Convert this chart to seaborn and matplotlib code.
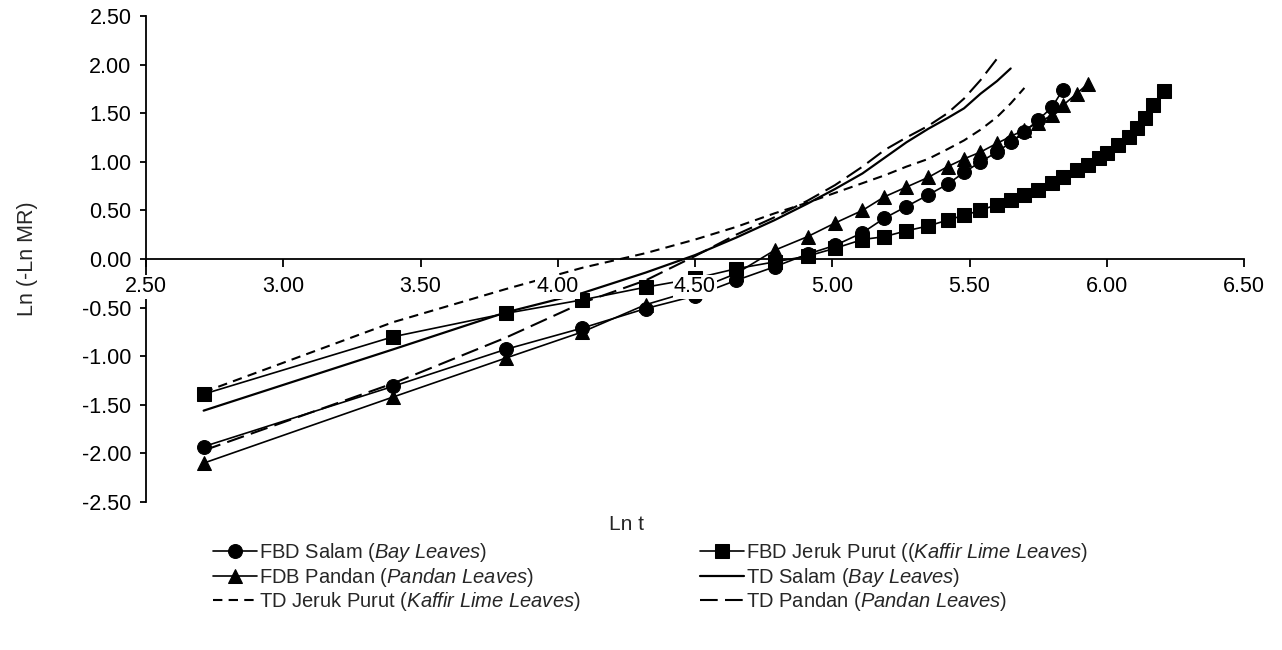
import matplotlib
matplotlib.use("Agg")
import matplotlib.pyplot as plt
import seaborn as sns
from matplotlib.ticker import FormatStrFormatter, MultipleLocator

# Ln t values (same time steps for every series)
ln_t = [2.71, 3.40, 3.81, 4.09, 4.32, 4.50, 4.65, 4.79, 4.91, 5.01, 5.11,
        5.19, 5.27, 5.35, 5.42, 5.48, 5.54, 5.60, 5.65, 5.70, 5.75, 5.80,
        5.84, 5.89, 5.93, 5.97, 6.00, 6.04, 6.08, 6.11, 6.14, 6.17, 6.21]

# Ln(-Ln MR)
fbd_salam = [-1.93, -1.31, -0.93, -0.71, -0.51, -0.38, -0.22, -0.08, 0.05,
             0.14, 0.27, 0.42, 0.54, 0.66, 0.77, 0.89, 1.00, 1.10, 1.20,
             1.31, 1.43, 1.56, 1.74]
fbd_jeruk = [-1.39, -0.80, -0.56, -0.42, -0.29, -0.20, -0.10, -0.03, 0.03,
             0.11, 0.20, 0.23, 0.29, 0.34, 0.40, 0.45, 0.50, 0.56, 0.61,
             0.66, 0.71, 0.78, 0.84, 0.92, 0.97, 1.04, 1.09, 1.17, 1.26,
             1.35, 1.45, 1.58, 1.73]
fdb_pandan = [-2.10, -1.42, -1.02, -0.75, -0.47, -0.32, -0.15, 0.09, 0.23,
              0.37, 0.50, 0.64, 0.74, 0.84, 0.95, 1.03, 1.10, 1.19, 1.26,
              1.33, 1.40, 1.48, 1.58, 1.70, 1.80]
td_salam = [-1.56, -0.93, -0.55, -0.35, -0.14, 0.04, 0.22, 0.40, 0.57,
            0.72, 0.88, 1.04, 1.20, 1.34, 1.45, 1.55, 1.70, 1.83, 1.96]
td_jeruk = [-1.37, -0.65, -0.31, -0.09, 0.06, 0.20, 0.33, 0.47, 0.58, 0.68,
            0.78, 0.86, 0.95, 1.03, 1.13, 1.22, 1.33, 1.46, 1.60, 1.76]
td_pandan = [-1.97, -1.28, -0.81, -0.45, -0.22, 0.03, 0.25, 0.43, 0.60,
             0.76, 0.95, 1.12, 1.25, 1.37, 1.50, 1.65, 1.84, 2.06]

labels = {
    "fbd_salam": r"FBD Salam ($\it{Bay\ Leaves}$)",
    "fbd_jeruk": r"FBD Jeruk Purut (($\it{Kaffir\ Lime\ Leaves}$)",
    "fdb_pandan": r"FDB Pandan ($\it{Pandan\ Leaves}$)",
    "td_salam": r"TD Salam ($\it{Bay\ Leaves}$)",
    "td_jeruk": r"TD Jeruk Purut ($\it{Kaffir\ Lime\ Leaves}$)",
    "td_pandan": r"TD Pandan ($\it{Pandan\ Leaves}$)",
}

sns.set_style("white")
plt.rcParams["font.family"] = ["Liberation Sans", "DejaVu Sans"]
plt.rcParams["mathtext.fontset"] = "custom"
plt.rcParams["mathtext.it"] = "Liberation Sans:italic"
plt.rcParams["mathtext.rm"] = "Liberation Sans"
plt.rcParams["axes.unicode_minus"] = False

fig = plt.figure(figsize=(12.82, 6.5), dpi=100)
ax = fig.add_axes([146 / 1282, 1 - 502 / 650, 1098 / 1282, 486 / 650])

mk = dict(color="black", markeredgecolor="black", markersize=10, linewidth=1.2)
sns.lineplot(x=ln_t[:len(fbd_salam)], y=fbd_salam, marker="o", ax=ax,
             label=labels["fbd_salam"], **mk)
sns.lineplot(x=ln_t[:len(fbd_jeruk)], y=fbd_jeruk, marker="s", ax=ax,
             label=labels["fbd_jeruk"], **mk)
sns.lineplot(x=ln_t[:len(fdb_pandan)], y=fdb_pandan, marker="^", ax=ax,
             label=labels["fdb_pandan"], **mk)
sns.lineplot(x=ln_t[:len(td_salam)], y=td_salam, ax=ax, color="black",
             linewidth=1.6, label=labels["td_salam"])
sns.lineplot(x=ln_t[:len(td_jeruk)], y=td_jeruk, ax=ax, color="black",
             linewidth=1.5, linestyle=(0, (4.5, 3.0)), label=labels["td_jeruk"])
sns.lineplot(x=ln_t[:len(td_pandan)], y=td_pandan, ax=ax, color="black",
             linewidth=1.5, linestyle=(0, (8.5, 3.5)), label=labels["td_pandan"])

ax.set_xlim(2.5, 6.5)
ax.set_ylim(-2.5, 2.5)
ax.xaxis.set_major_locator(MultipleLocator(0.5))
ax.yaxis.set_major_locator(MultipleLocator(0.5))
ax.xaxis.set_major_formatter(FormatStrFormatter("%.2f"))
ax.yaxis.set_major_formatter(FormatStrFormatter("%.2f"))

# Excel-style axes: x axis crosses at y = 0
ax.spines["top"].set_visible(False)
ax.spines["right"].set_visible(False)
ax.spines["bottom"].set_position(("data", 0))
for s in ["left", "bottom"]:
    ax.spines[s].set_linewidth(1.3)
    ax.spines[s].set_color("black")
ax.set_axisbelow(False)
ax.tick_params(axis="both", direction="out", width=1.3,
               colors="black", labelsize=15.5)
ax.tick_params(axis="x", bottom=True, length=5.5, pad=7)
ax.tick_params(axis="y", left=True, length=4.5, pad=6)
for lbl in ax.get_xticklabels():
    lbl.set_bbox(dict(facecolor="white", edgecolor="none", pad=1.0))

ax.set_xlabel("Ln t", fontsize=15)
ax.set_ylabel("Ln (-Ln MR)", fontsize=15.5)
ax.xaxis.set_label_coords(0.438, -0.027)
ax.yaxis.set_label_coords(-0.098, 0.5)

# legend: two columns placed separately
handles, labs = ax.get_legend_handles_labels()
leg_kw = dict(loc="upper left", frameon=False, fontsize=14.5,
              handlelength=2.2, handletextpad=0.1, labelspacing=0.08,
              borderaxespad=0, borderpad=0)
leg1 = ax.legend([handles[i] for i in (0, 2, 4)], [labs[i] for i in (0, 2, 4)],
                 bbox_to_anchor=((213 - 146) / 1098, (502 - 541) / 486), **leg_kw)
ax.add_artist(leg1)
ax.legend([handles[i] for i in (1, 3, 5)], [labs[i] for i in (1, 3, 5)],
          bbox_to_anchor=((700 - 146) / 1098, (502 - 541) / 486), **leg_kw)

fig.savefig("out.png", dpi=100)
